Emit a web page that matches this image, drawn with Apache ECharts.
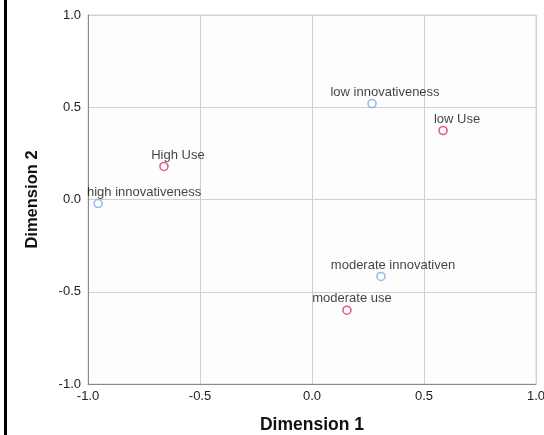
<!DOCTYPE html>
<html>
<head>
<meta charset="utf-8">
<script src="https://cdn.jsdelivr.net/npm/echarts@6/dist/echarts.min.js"></script>
<style>html,body{margin:0;padding:0;background:#fff}#c{width:544px;height:435px}</style>
</head>
<body>
<div id="c"></div>
<script>
// Category points (Dimension 1, Dimension 2)
const innovNames = ['high innovativeness', 'low innovativeness', 'moderate innovativen'];
const innovDim1 = [-0.955, 0.268, 0.308];
const innovDim2 = [-0.022, 0.52, -0.417];

const useNames = ['High Use', 'low Use', 'moderate use'];
const useDim1 = [-0.661, 0.585, 0.156];
const useDim2 = [0.179, 0.374, -0.60];

const axisTicks = [-1.0, -0.5, 0.0, 0.5, 1.0];

// label horizontal offsets (styling only)
const innovLabelDx = [46, 13, 12];
const useLabelDx = [14, 14, 5];

function build(names, xs, ys, dx) {
  return names.map((n, i) => ({
    name: n,
    value: [xs[i], ys[i]],
    label: { offset: [dx[i], 0] }
  }));
}

const chart = echarts.init(document.getElementById('c'));
const fmt = v => v.toFixed(1);
const font = 'Liberation Sans, Arial, sans-serif';
chart.setOption({
  backgroundColor: '#ffffff',
  animation: false,
  graphic: [{
    type: 'rect', left: 4, top: 0,
    shape: { width: 3, height: 435 },
    style: { fill: '#000' }
  }],
  grid: { left: 88, right: 8, top: 15, bottom: 51, show: true, borderColor: '#d4d4d4', borderWidth: 1, backgroundColor: '#fdfdfd', containLabel: false, outerBoundsMode: 'none' },
  xAxis: {
    type: 'value', min: axisTicks[0], max: axisTicks[axisTicks.length - 1], interval: 0.5,
    name: 'Dimension 1', nameLocation: 'middle', nameGap: 32,
    nameTextStyle: { fontFamily: font, fontWeight: 'bold', fontSize: 17.5, color: '#111' },
    axisLine: { show: true, onZero: false, lineStyle: { color: '#8a8a8a', width: 1 } },
    axisTick: { show: false },
    axisLabel: { formatter: fmt, fontFamily: font, fontSize: 13, color: '#222', margin: 6 },
    splitLine: { show: true, lineStyle: { color: '#d0d0d0', width: 1 } }
  },
  yAxis: {
    type: 'value', min: axisTicks[0], max: axisTicks[axisTicks.length - 1], interval: 0.5,
    name: 'Dimension 2', nameLocation: 'middle', nameGap: 47, nameRotate: 90,
    nameTextStyle: { fontFamily: font, fontWeight: 'bold', fontSize: 16.5, color: '#111' },
    axisLine: { show: true, onZero: false, lineStyle: { color: '#8a8a8a', width: 1 } },
    axisTick: { show: false },
    axisLabel: { formatter: fmt, fontFamily: font, fontSize: 13, color: '#222', margin: 7 },
    splitLine: { show: true, lineStyle: { color: '#d0d0d0', width: 1 } }
  },
  series: [
    {
      name: 'innovativeness', type: 'scatter', symbol: 'circle', symbolSize: 8,
      itemStyle: { color: '#ffffff', borderColor: '#78aae6', borderWidth: 1.6 },
      label: { show: true, position: 'top', distance: 0, formatter: '{b}', fontFamily: font, fontSize: 13, color: '#111' },
      data: build(innovNames, innovDim1, innovDim2, innovLabelDx)
    },
    {
      name: 'use', type: 'scatter', symbol: 'circle', symbolSize: 8,
      itemStyle: { color: '#ffffff', borderColor: '#e0325a', borderWidth: 1.6 },
      label: { show: true, position: 'top', distance: 0, formatter: '{b}', fontFamily: font, fontSize: 13, color: '#111' },
      data: build(useNames, useDim1, useDim2, useLabelDx)
    }
  ]
});
</script>
</body>
</html>
